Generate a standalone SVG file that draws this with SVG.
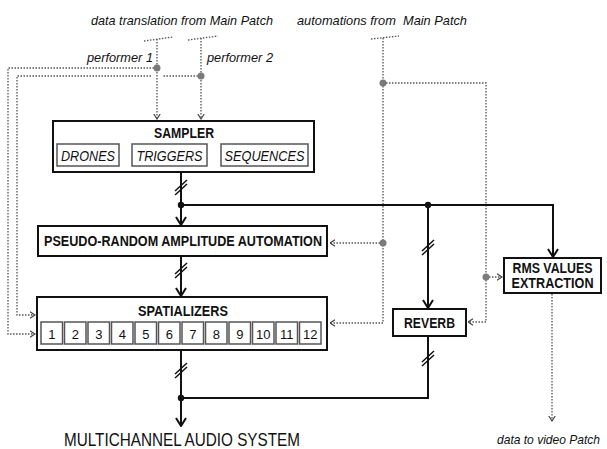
<svg xmlns="http://www.w3.org/2000/svg" width="607" height="449" viewBox="0 0 607 449">
<style>
text{font-family:"Liberation Sans",Arial,sans-serif;fill:#111}
.it{font-style:italic;font-size:13.5px}
.b{font-weight:bold;font-size:14.5px;text-anchor:middle}
.box{fill:#fff;stroke:#111;stroke-width:2}
.ibox{fill:#fff;stroke:#555;stroke-width:1.5}
.cell{fill:#fff;stroke:#555;stroke-width:1.5}
.num{font-size:13px;text-anchor:middle}
.ctl{fill:none;stroke:#555;stroke-width:1.3;stroke-dasharray:1.5 1.5}
.sig{fill:none;stroke:#111;stroke-width:2}
.hash{stroke:#111;stroke-width:1.5}
.gdot{fill:#7a7a7a}
.jdot{fill:#111}
</style>
<defs>
<marker id="as" markerUnits="userSpaceOnUse" viewBox="0 0 10 12" refX="9" refY="6" markerWidth="10" markerHeight="12" orient="auto">
<path d="M1,1 L9,6 L1,11" fill="none" stroke="#111" stroke-width="2"/>
</marker>
<marker id="ad" markerUnits="userSpaceOnUse" viewBox="0 0 6 8" refX="5.5" refY="4" markerWidth="6" markerHeight="8" orient="auto">
<path d="M0.5,0.8 L5.5,4 L0.5,7.2" fill="none" stroke="#444" stroke-width="1.2"/>
</marker>
</defs>
<rect width="607" height="449" fill="#fff"/>

<g id="labels">
<text class="it" x="91" y="25" textLength="182" lengthAdjust="spacingAndGlyphs">data translation from Main Patch</text>
<text class="it" x="297" y="25" xml:space="preserve" textLength="170" lengthAdjust="spacingAndGlyphs">automations from  Main Patch</text>
<text class="it" x="87" y="62" textLength="66" lengthAdjust="spacingAndGlyphs">performer 1</text>
<text class="it" x="207" y="62" textLength="66" lengthAdjust="spacingAndGlyphs">performer 2</text>
<text x="64" y="446" style="font-size:18px" textLength="236" lengthAdjust="spacingAndGlyphs">MULTICHANNEL AUDIO SYSTEM</text>
<text class="it" x="497" y="444" style="font-size:13px" textLength="103" lengthAdjust="spacingAndGlyphs">data to video Patch</text>
</g>

<g id="connectors">
<path class="ctl" d="M144,41 L173,37"/>
<path class="ctl" d="M188,40 L218,36"/>
<path class="ctl" d="M371,39 L399,36"/>
<path class="ctl" d="M157,39 V119" marker-end="url(#ad)"/>
<path class="ctl" d="M201,38 V119" marker-end="url(#ad)"/>
<path class="ctl" d="M157,68 H8 V334 H35" marker-end="url(#ad)"/>
<path class="ctl" d="M201,76 H163"/>
<path class="ctl" d="M151,76 H17 V315 H35" marker-end="url(#ad)"/>
<path class="ctl" d="M383,38 V323 H330" marker-end="url(#ad)"/>
<path class="ctl" d="M383,243 H330" marker-end="url(#ad)"/>
<path class="ctl" d="M383,83 H486 V322 H468" marker-end="url(#ad)"/>
<path class="ctl" d="M486,277 H502" marker-end="url(#ad)"/>
<path class="ctl" d="M552,294 V421" marker-end="url(#ad)"/>
<circle class="gdot" cx="157" cy="68" r="3.5"/>
<circle class="gdot" cx="201" cy="76" r="3.5"/>
<circle class="gdot" cx="383" cy="83" r="3.5"/>
<circle class="gdot" cx="383" cy="243" r="3.5"/>
<circle class="gdot" cx="486" cy="277" r="3.5"/>
<path class="sig" d="M181,172 V225" marker-end="url(#as)"/>
<path class="sig" d="M181,205 H553 V257" marker-end="url(#as)"/>
<path class="sig" d="M428,205 V308" marker-end="url(#as)"/>
<path class="sig" d="M181,256 V296" marker-end="url(#as)"/>
<path class="sig" d="M181,350 V426" marker-end="url(#as)"/>
<path class="sig" d="M181,398 H428 V336"/>
<circle class="jdot" cx="181" cy="205" r="3.2"/>
<circle class="jdot" cx="428" cy="205" r="3.2"/>
<circle class="jdot" cx="181" cy="398" r="3.2"/>
<g class="hash">
<path d="M175,191 L187,180 M175,195 L187,184"/>
<path d="M175,274 L187,263 M175,278 L187,267"/>
<path d="M422,251 L434,240 M422,255 L434,244"/>
<path d="M175,374 L187,363 M175,378 L187,367"/>
<path d="M422,362 L434,351 M422,366 L434,355"/>
</g>
</g>

<g id="sampler">
<rect class="box" x="53" y="121" width="261" height="51"/>
<text class="b" x="184" y="138" textLength="60" lengthAdjust="spacingAndGlyphs">SAMPLER</text>
<rect class="ibox" x="57" y="144" width="62" height="22"/>
<text class="it" x="88" y="161" text-anchor="middle" style="font-size:14px" textLength="54" lengthAdjust="spacingAndGlyphs">DRONES</text>
<rect class="ibox" x="132" y="144" width="75" height="22"/>
<text class="it" x="169.5" y="161" text-anchor="middle" style="font-size:14px" textLength="66" lengthAdjust="spacingAndGlyphs">TRIGGERS</text>
<rect class="ibox" x="221" y="144" width="87" height="22"/>
<text class="it" x="264.5" y="161" text-anchor="middle" style="font-size:14px" textLength="80" lengthAdjust="spacingAndGlyphs">SEQUENCES</text>
</g>

<g id="pseudo-random">
<rect class="box" x="38" y="226" width="289" height="30"/>
<text class="b" x="183" y="246" textLength="278" lengthAdjust="spacingAndGlyphs">PSEUDO-RANDOM AMPLITUDE AUTOMATION</text>
</g>

<g id="spatializers">
<rect class="box" x="37" y="297" width="290" height="53"/>
<text class="b" x="183" y="316" textLength="90" lengthAdjust="spacingAndGlyphs">SPATIALIZERS</text>
<rect class="cell" x="41" y="322" width="21.5" height="22"/><text class="num" x="51.8" y="339">1</text>
<rect class="cell" x="64.5" y="322" width="21.5" height="22"/><text class="num" x="75.3" y="339">2</text>
<rect class="cell" x="88" y="322" width="21.5" height="22"/><text class="num" x="98.8" y="339">3</text>
<rect class="cell" x="111.5" y="322" width="21.5" height="22"/><text class="num" x="122.3" y="339">4</text>
<rect class="cell" x="135" y="322" width="21.5" height="22"/><text class="num" x="145.8" y="339">5</text>
<rect class="cell" x="158.5" y="322" width="21.5" height="22"/><text class="num" x="169.3" y="339">6</text>
<rect class="cell" x="182" y="322" width="21.5" height="22"/><text class="num" x="192.8" y="339">7</text>
<rect class="cell" x="205.5" y="322" width="21.5" height="22"/><text class="num" x="216.3" y="339">8</text>
<rect class="cell" x="229" y="322" width="21.5" height="22"/><text class="num" x="239.8" y="339">9</text>
<rect class="cell" x="252.5" y="322" width="21.5" height="22"/><text class="num" x="263.3" y="339">10</text>
<rect class="cell" x="276" y="322" width="21.5" height="22"/><text class="num" x="286.8" y="339">11</text>
<rect class="cell" x="299.5" y="322" width="21.5" height="22"/><text class="num" x="310.3" y="339">12</text>
</g>

<g id="reverb">
<rect class="box" x="393" y="309" width="73" height="27"/>
<text class="b" x="429.5" y="328" textLength="51" lengthAdjust="spacingAndGlyphs">REVERB</text>
</g>

<g id="rms">
<rect class="box" x="504" y="258" width="97" height="35"/>
<text class="b" x="552.5" y="273" textLength="80" lengthAdjust="spacingAndGlyphs">RMS VALUES</text>
<text class="b" x="552.5" y="288" textLength="82" lengthAdjust="spacingAndGlyphs">EXTRACTION</text>
</g>
</svg>
